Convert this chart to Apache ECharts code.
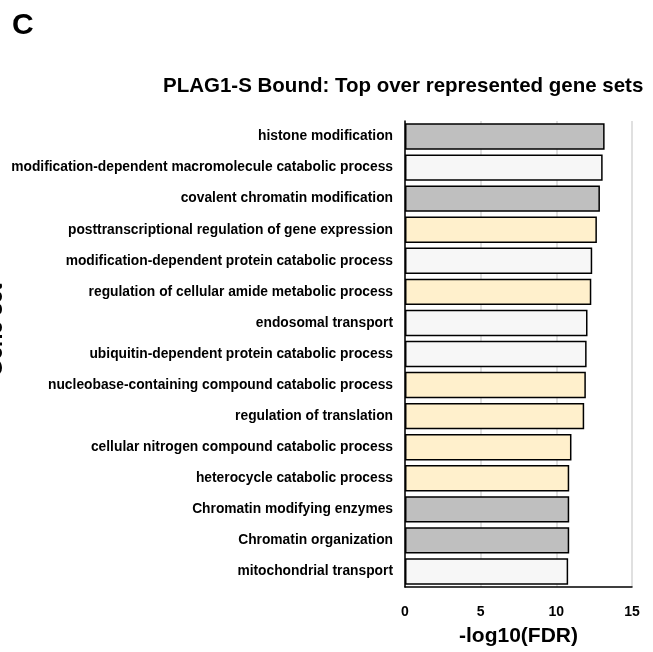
<!DOCTYPE html>
<html>
<head>
<meta charset="utf-8">
<script src="https://cdn.jsdelivr.net/npm/echarts@6/dist/echarts.min.js"></script>
<style>html,body{margin:0;padding:0;background:#fff;}#c{width:653px;height:652px;}</style>
</head>
<body>
<div id="c"></div>
<script>
const categories = [
  "histone modification",
  "modification-dependent macromolecule catabolic process",
  "covalent chromatin modification",
  "posttranscriptional regulation of gene expression",
  "modification-dependent protein catabolic process",
  "regulation of cellular amide metabolic process",
  "endosomal transport",
  "ubiquitin-dependent protein catabolic process",
  "nucleobase-containing compound catabolic process",
  "regulation of translation",
  "cellular nitrogen compound catabolic process",
  "heterocycle catabolic process",
  "Chromatin modifying enzymes",
  "Chromatin organization",
  "mitochondrial transport"
];
const values = [13.19, 13.06, 12.88, 12.68, 12.37, 12.31, 12.06, 12.0, 11.95, 11.84, 11.0, 10.85, 10.85, 10.85, 10.78];
const groups = ["gray","light","gray","yellow","light","yellow","light","light","yellow","yellow","yellow","yellow","gray","gray","light"];
const xTicks = [0, 5, 10, 15];
const groupColors = { gray: "#bfbfbf", light: "#f7f7f7", yellow: "#fff0cc" };

const chart = echarts.init(document.getElementById('c'), null, { renderer: 'canvas' });
const FONT = 'Liberation Sans, Arial, sans-serif';
chart.setOption({
  backgroundColor: '#ffffff',
  animation: false,
  title: [
    { text: 'C', left: 7, top: 6, textStyle: { fontFamily: FONT, fontWeight: 'bold', fontSize: 30, color: '#000' } },
    { text: 'PLAG1-S Bound: Top over represented gene sets', left: 158, top: 71,
      textStyle: { fontFamily: FONT, fontWeight: 'bold', fontSize: 20.5, color: '#000' } }
  ],
  graphic: [{
    type: 'text', x: -4, y: 330, rotation: Math.PI / 2,
    style: { text: 'Gene set', fontFamily: FONT, fontWeight: 'bold', fontSize: 22, fill: '#000', align: 'center', verticalAlign: 'middle' }
  }],
  grid: { left: 405, right: 21, top: 121, bottom: 57, containLabel: false },
  xAxis: {
    type: 'value', min: xTicks[0], max: xTicks[xTicks.length - 1], interval: xTicks[1] - xTicks[0],
    name: '-log10(FDR)', nameLocation: 'middle', nameGap: 39,
    nameTextStyle: { fontFamily: FONT, fontWeight: 'bold', fontSize: 21, color: '#000' },
    axisLine: { show: true, lineStyle: { color: '#000', width: 1.5 } },
    axisTick: { show: false },
    axisLabel: { fontFamily: FONT, fontWeight: 'bold', fontSize: 14, color: '#000', margin: 18 },
    splitLine: { show: true, lineStyle: { color: '#d6d6d6', width: 1.5 } }
  },
  yAxis: {
    type: 'category', data: categories, inverse: true,
    axisLine: { show: true, lineStyle: { color: '#000', width: 1.5 } },
    axisTick: { show: false },
    axisLabel: { fontFamily: FONT, fontWeight: 'bold', fontSize: 13.8, color: '#000', margin: 12 }
  },
  series: [{
    type: 'bar',
    barCategoryGap: '15%',
    data: values.map((v, i) => ({
      value: v,
      itemStyle: { color: groupColors[groups[i]], borderColor: '#000', borderWidth: 1.5 }
    }))
  }]
});
</script>
</body>
</html>
